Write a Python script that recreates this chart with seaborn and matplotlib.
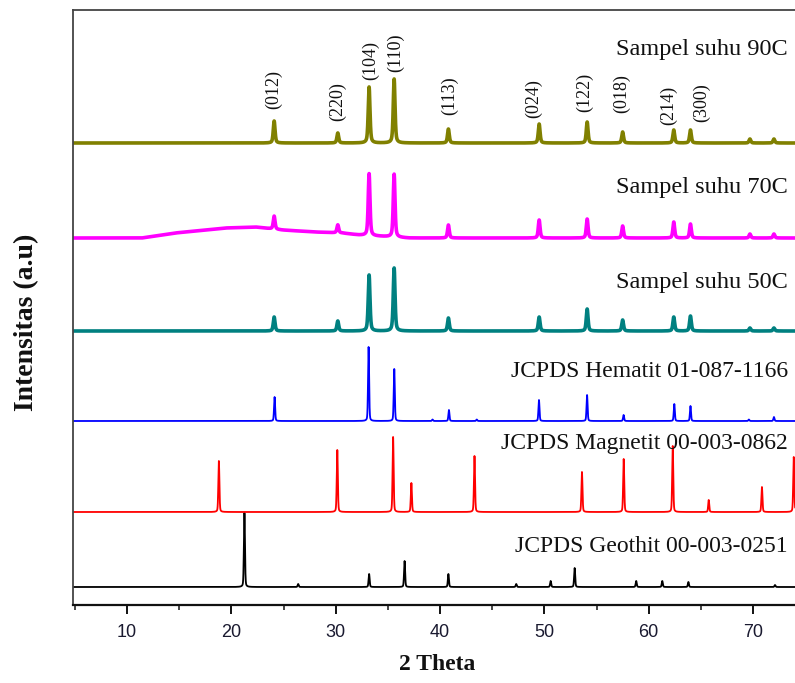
import numpy as np
import pandas as pd
import matplotlib
matplotlib.use("Agg")
import matplotlib.pyplot as plt
from matplotlib.ticker import MultipleLocator
import seaborn as sns

# ---- data -----------------------------------------------------------------
# Reference cards: 2-theta positions (deg) and relative intensities (a.u.)
geothit_pos = [21.25, 26.4, 33.2, 36.6, 40.8, 47.3, 50.6, 52.9, 58.8, 61.3, 63.8, 72.1]
geothit_int = [74, 3, 13, 26, 13, 3, 6, 19, 6, 6, 5, 2]

magnetit_pos = [18.8, 30.15, 35.5, 37.25, 43.3, 53.6, 57.6, 62.3, 65.75, 70.85, 73.9]
magnetit_int = [51, 62, 75, 29, 56, 40, 53, 66, 12, 25, 55]

hematit_pos = [24.14, 33.15, 35.61, 39.28, 40.85, 43.52, 49.48, 54.09, 57.59, 62.45, 64.0, 69.6, 72.0]
hematit_int = [24, 74, 52, 1.5, 11, 1.5, 21, 26, 6, 17, 15, 1.5, 4]

# Measured samples: fitted reflections
sample_pos = [24.1, 30.2, 33.2, 35.6, 40.8, 49.5, 54.1, 57.5, 62.4, 64.0, 69.7, 72.0]
suhu50_int = [14, 10, 56, 63, 13, 14, 22, 11, 14, 15, 3, 3]
suhu70_int = [13, 8, 62, 63, 13, 18, 19, 12, 16, 14, 4, 4]
suhu90_int = [22, 10, 56, 64, 14, 19, 21, 11, 13, 13, 4, 4]

# Amorphous background of the 70C sample
bg70_theta = [5, 11.4, 14.6, 19.4, 22.3, 24.9, 28.0, 30.6, 32.2, 35.4, 37.0, 74]
bg70_level = [0, 0, 5, 10, 11, 8, 6, 5, 3, 1, 0, 0]

series_names = ["JCPDS Geothit 00-003-0251", "JCPDS Magnetit 00-003-0862",
                "JCPDS Hematit 01-087-1166", "Sampel suhu 50C",
                "Sampel suhu 70C", "Sampel suhu 90C"]

hkl_labels = ["(012)", "(220)", "(104)", "(110)", "(113)",
              "(024)", "(122)", "(018)", "(214)", "(300)"]
hkl_theta = [24.0, 30.2, 33.3, 35.7, 40.9, 49.0, 53.9, 57.4, 61.9, 65.1]

# ---- layout / style ---------------------------------------------------------
offsets = [18, 93, 184, 274, 367, 462]
colors = ["#000000", "#ff0000", "#0000ff", "#008080", "#ff00ff", "#808000"]
name_y = [53, 156, 228, 317, 412, 550]
name_size = [17, 17, 17, 17.5, 17.5, 17.5]
hkl_y = [496, 484, 525, 533, 490, 487, 493, 492, 480, 483]


def profile(theta, positions, heights, fwhm, eta):
    y = np.zeros_like(theta)
    for p, h in zip(positions, heights):
        d = theta - p
        g = np.exp(-4 * np.log(2) * d ** 2 / fwhm ** 2)
        lo = 1.0 / (1.0 + 4 * d ** 2 / fwhm ** 2)
        y += h * ((1 - eta) * g + eta * lo)
    return y


theta = np.arange(4.8, 74.1, 0.01)
curves = [
    profile(theta, geothit_pos, geothit_int, 0.12, 0.3),
    profile(theta, magnetit_pos, magnetit_int, 0.12, 0.3),
    profile(theta, hematit_pos, hematit_int, 0.12, 0.3),
    profile(theta, sample_pos, suhu50_int, 0.2, 0.5),
    profile(theta, sample_pos, suhu70_int, 0.2, 0.5) + np.interp(theta, bg70_theta, bg70_level),
    profile(theta, sample_pos, suhu90_int, 0.2, 0.5),
]

frames = []
for name, off, c in zip(series_names, offsets, curves):
    frames.append(pd.DataFrame({"2theta": theta, "intensitas": c + off, "pola": name}))
df = pd.concat(frames, ignore_index=True)

sns.set_theme(style="ticks")
plt.rcParams["font.family"] = ["Liberation Serif", "DejaVu Serif"]

fig = plt.figure(figsize=(7.95, 6.83), dpi=100)
ax = fig.add_axes([73 / 795, 78 / 683, 722 / 795, 595 / 683])

for i, name in enumerate(series_names):
    sub = df[df["pola"] == name]
    is_sample = i >= 3
    sns.lineplot(data=sub, x="2theta", y="intensitas", ax=ax, color=colors[i],
                 lw=2.6 if is_sample else 1.3, sort=False, estimator=None, legend=False)
    ax.text(73.36, name_y[i], name, ha="right", va="baseline", fontsize=name_size[i],
            color="#111111")

for lab, tx, ty in zip(hkl_labels, hkl_theta, hkl_y):
    ax.text(tx, ty, lab, rotation=90, ha="center", va="bottom", fontsize=13,
            color="#111111")

ax.set_xlim(4.82, 74.02)
ax.set_ylim(0, 595)
ax.set_yticks([])
ax.xaxis.set_major_locator(MultipleLocator(10))
ax.xaxis.set_minor_locator(MultipleLocator(5))
ax.tick_params(axis="x", which="major", direction="out", length=6.5, width=1.4,
               pad=7, labelsize=13, colors="#111111")
ax.tick_params(axis="x", which="minor", direction="out", length=3.5, width=1.2)
for lbl in ax.get_xticklabels():
    lbl.set_family(["Liberation Sans", "DejaVu Sans"])
    lbl.set_color("#1a1a30")

ax.spines["right"].set_visible(False)
ax.spines["bottom"].set_linewidth(1.6)
ax.spines["bottom"].set_color("#111111")
for s in ("left", "top"):
    ax.spines[s].set_linewidth(1.3)
    ax.spines[s].set_color("#444444")

ax.set_xlabel("2 Theta", fontsize=17, fontweight="bold", color="#111111")
ax.xaxis.set_label_coords((437 - 73) / 722, (605 - 665) / 595)
ax.xaxis.label.set_va("center")
ax.set_ylabel("Intensitas (a.u)", fontsize=20, fontweight="bold", color="#111111")
ax.yaxis.set_label_coords((27 - 73) / 722, (605 - 322) / 595)
ax.yaxis.label.set_va("center")

fig.savefig("out.png", dpi=100)
